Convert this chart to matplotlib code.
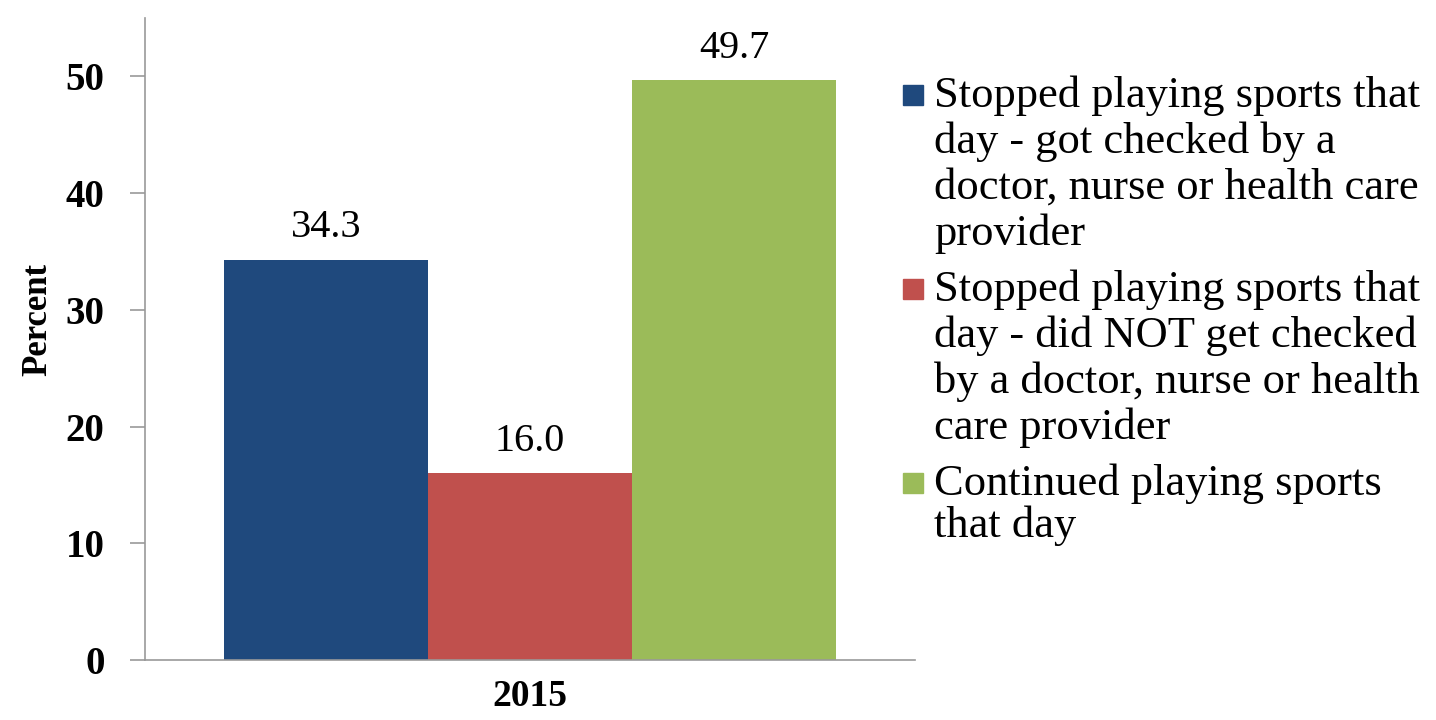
import matplotlib
matplotlib.use("Agg")
from matplotlib import pyplot as plt
from matplotlib.patches import Rectangle

year = "2015"
labels = ["Stopped playing sports that\nday - got checked by a\ndoctor, nurse or health care\nprovider",
          "Stopped playing sports that\nday - did NOT get checked\nby a doctor, nurse or health\ncare provider",
          "Continued playing sports\nthat day"]
values = [34.3, 16.0, 49.7]
colors = ["#1F497D", "#C0504D", "#9BBB59"]
yticks = [0, 10, 20, 30, 40, 50]

plt.rcParams["font.family"] = ["Liberation Serif", "DejaVu Serif"]

W, H = 1436, 720
fig = plt.figure(figsize=(W / 100, H / 100), dpi=100)
# axes in pixel terms: x 145..915, y 18..660
ax = fig.add_axes([145 / W, 1 - 660 / H, 770 / W, 642 / H])

positions = [-1, 0, 1]
for x, v, c in zip(positions, values, colors):
    ax.bar(x, v, width=1.0, color=c)
    ax.annotate("%.1f" % v, (x, v), xytext=(0, 16), textcoords="offset points",
                ha="center", va="baseline", fontsize=29)

ax.set_xlim(-1.887, 1.887)
ax.set_ylim(0, 55)
ax.set_yticks(yticks)
ax.set_yticklabels([str(t) for t in yticks], fontsize=28, fontweight="bold")
ax.tick_params(axis="y", length=11, width=1.2, pad=18, color="#999999")
ax.set_xticks([0])
ax.set_xticklabels([year], fontsize=27, fontweight="bold")
ax.tick_params(axis="x", length=0, pad=14)
ax.set_ylabel("Percent", fontsize=25, fontweight="bold")
ax.yaxis.set_label_coords(-0.118, 0.53)

for s in ["top", "right"]:
    ax.spines[s].set_visible(False)
for s in ["left", "bottom"]:
    ax.spines[s].set_color("#999999")
    ax.spines[s].set_linewidth(1.2)

# legend drawn by hand: square next to first line, wrapped text lines
first_baselines = [107, 301, 495]
line_step = [46, 46, 42]
for lab, c, y0, step in zip(labels, colors, first_baselines, line_step):
    fig.patches.append(Rectangle((903 / W, 1 - (y0 - 2) / H), 20 / W, 20 / H,
                                 transform=fig.transFigure, color=c))
    for i, line in enumerate(lab.split("\n")):
        fig.text(934 / W, 1 - (y0 + i * step) / H, line, fontsize=32,
                 ha="left", va="baseline")

fig.savefig("out.png", dpi=100)
